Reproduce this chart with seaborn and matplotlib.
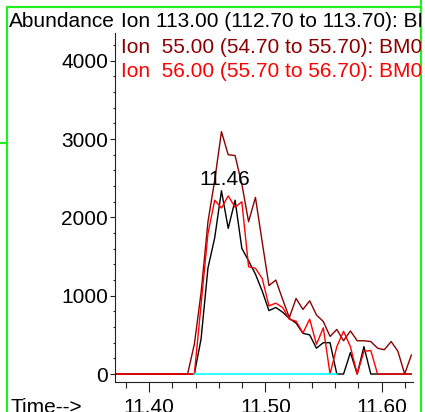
import numpy as np
import pandas as pd
import matplotlib
matplotlib.use('Agg')
import matplotlib.pyplot as plt
from matplotlib.ticker import MultipleLocator, FormatStrFormatter
import seaborn as sns

sns.set_style("ticks")
plt.rcParams['font.family'] = ['Liberation Sans', 'DejaVu Sans']
plt.rcParams['text.color'] = 'black'
plt.rcParams['xtick.labelcolor'] = 'black'
plt.rcParams['ytick.labelcolor'] = 'black'

# scan times (min)
times = [11.3690, 11.3748, 11.3807, 11.3865, 11.3923, 11.3982, 11.4040, 11.4098,
         11.4157, 11.4215, 11.4273, 11.4332, 11.4390, 11.4448, 11.4507, 11.4565,
         11.4623, 11.4681, 11.4740, 11.4798, 11.4856, 11.4915, 11.4973, 11.5031,
         11.5090, 11.5148, 11.5206, 11.5264, 11.5323, 11.5381, 11.5439, 11.5498,
         11.5556, 11.5614, 11.5672, 11.5731, 11.5789, 11.5847, 11.5906, 11.5964,
         11.6022, 11.6081, 11.6139, 11.6197, 11.6255]

# abundance per ion trace
ion113 = [0, 0, 0, 0, 0, 0, 0, 0, 0, 0, 0, 0,
          0, 450, 1355, 1740, 2340, 1860, 2220, 1605, 1445, 1275, 1060, 810,
          850, 790, 710, 650, 520, 500, 330, 400, 400, 0, 0, 275,
          0, 350, 0, 0, 0, 0, 0, 0, 0]
ion55 = [0, 0, 0, 0, 0, 0, 0, 0, 0, 0, 0, 0,
         380, 1040, 1945, 2475, 3095, 2800, 2790, 2425, 1945, 2255, 1685, 1130,
         1200, 955, 720, 965, 825, 935, 755, 670, 480, 570, 425, 550,
         425, 425, 415, 330, 310, 415, 290, 0, 245]
ion56 = [0, 0, 0, 0, 0, 0, 0, 0, 0, 0, 0, 0,
         0, 890, 1795, 2220, 2120, 2275, 2130, 2200, 1370, 1350, 1220, 870,
         905, 850, 700, 675, 525, 700, 380, 590, 0, 350, 545, 350,
         0, 290, 300, 0, 0, 0, 0, 0, 0]
# integration baseline
base_t = [11.4390, 11.5614]
base_v = [0, 0]

titles = ["Ion 113.00 (112.70 to 113.70): BM0124.D\\data.ms",
          "Ion  55.00 (54.70 to 55.70): BM0124.D\\data.ms",
          "Ion  56.00 (55.70 to 56.70): BM0124.D\\data.ms"]
colors = ['black', '#8b0000', '#ff0000']
peak_label = "11.46"

W, H = 425, 412
fig = plt.figure(figsize=(W / 100, H / 100), dpi=100)
ax = fig.add_axes([114.5 / W, (H - 381.7) / H, (412.7 - 114.5) / W, (381.7 - 33) / H])

df = pd.DataFrame({'time': times, 'ion113': ion113, 'ion55': ion55, 'ion56': ion56})
sns.lineplot(data=df, x='time', y='ion113', color=colors[0], lw=1.0, estimator=None, ax=ax)
sns.lineplot(data=df, x='time', y='ion55', color=colors[1], lw=1.0, estimator=None, ax=ax)
sns.lineplot(data=df, x='time', y='ion56', color=colors[2], lw=1.0, estimator=None, ax=ax)
sns.lineplot(x=base_t, y=base_v, color='#00ffff', lw=1.2, estimator=None, ax=ax)

ax.set_xlabel('')
ax.set_ylabel('')
sns.despine(ax=ax)
for s in ['left', 'bottom']:
    ax.spines[s].set_linewidth(0.8)
    ax.spines[s].set_color('#222222')

ax.set_xlim(11.3704, 11.6266)
ax.set_ylim(-98, 4355)
ax.xaxis.set_major_locator(MultipleLocator(0.1))
ax.xaxis.set_minor_locator(MultipleLocator(0.02))
ax.xaxis.set_major_formatter(FormatStrFormatter('%.2f'))
ax.yaxis.set_major_locator(MultipleLocator(1000))
ax.yaxis.set_minor_locator(MultipleLocator(200))
ax.tick_params(axis='x', which='major', length=7.2, width=0.8, pad=4.5, labelsize=15,
               color='#222222', labelcolor='black')
ax.tick_params(axis='x', which='minor', length=4, width=0.8, color='#222222')
ax.tick_params(axis='y', which='major', length=3.6, width=0.8, pad=1, labelsize=15,
               color='#222222', labelcolor='black')
ax.tick_params(axis='y', which='minor', length=1.5, width=0.8, color='#222222')

ax.annotate(peak_label, xy=(times[16], ion113[16]), xytext=(3, 6),
            textcoords='offset pixels', ha='center', va='baseline', fontsize=15)

# overlay in pixel coords for header texts and frame
ov = fig.add_axes([0, 0, 1, 1])
ov.set_xlim(0, W)
ov.set_ylim(H, 0)
ov.axis('off')
ov.text(9.3, 26.7, "Abundance", fontsize=15, va='baseline', ha='left')
ov.text(11, 413, "Time-->", fontsize=15, va='baseline', ha='left')
green = '#22ee22'
ov.plot([7, 7], [7, H + 5], color=green, lw=1.6, clip_on=False)
ov.plot([7, 421.5], [7, 7], color=green, lw=1.6)
ov.plot([421.5, 421.5], [0, H + 5], color=green, lw=1.6, clip_on=False)
ov.plot([0, 7], [142.5, 142.5], color=green, lw=1.6)

tv = fig.add_axes([0, 0, 420.5 / W, 1])
tv.set_xlim(0, 420.5)
tv.set_ylim(H, 0)
tv.axis('off')
for txt, c, yb in zip(titles, colors, [27.3, 53.3, 76.7]):
    tv.text(120.7, yb, txt, color=c, fontsize=15, va='baseline', ha='left', clip_on=True)

fig.savefig('out.png', dpi=100)
